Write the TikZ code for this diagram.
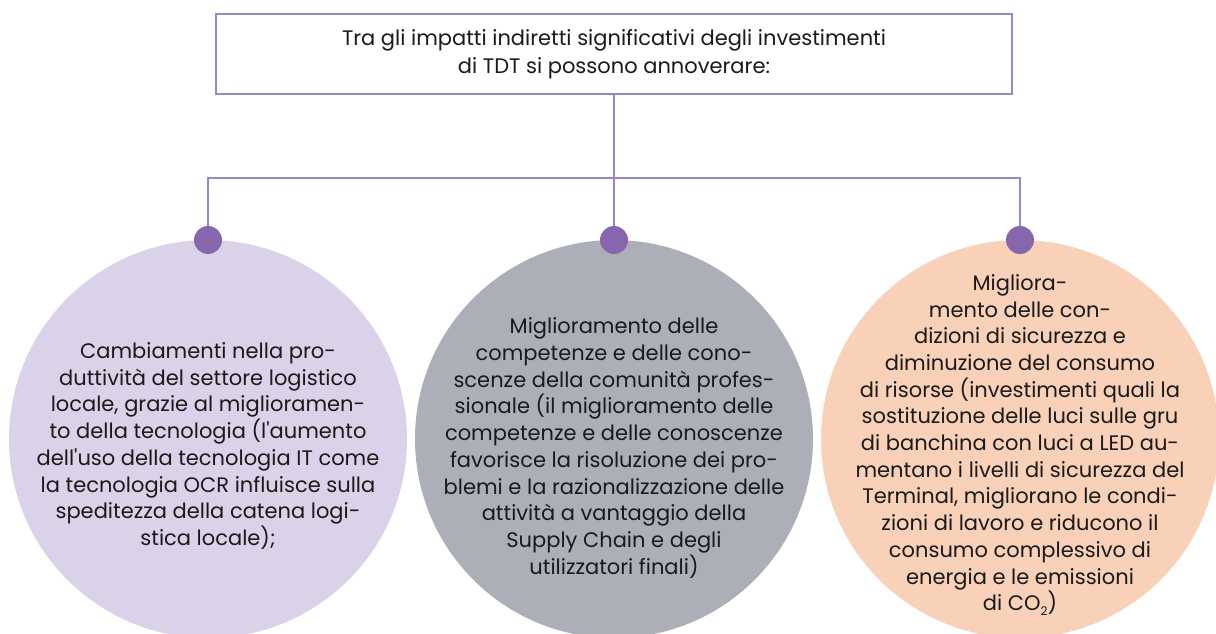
\documentclass[tikz,border=0pt]{standalone}
\usepackage{fontspec}
\setmainfont{Poppins}
\definecolor{lineP}{HTML}{9A86C6}
\definecolor{dotP}{HTML}{8667AE}
\definecolor{lav}{HTML}{D9D2E9}
\definecolor{greyC}{HTML}{ADAFB8}
\definecolor{peach}{HTML}{F9D0B8}
\definecolor{txt}{HTML}{1A1A1A}
\newcommand{\sq}{\textquotesingle}
\newcommand{\lowtwo}{\raisebox{-5pt}{\fontsize{12}{12}\selectfont 2}}
\tikzset{
  conn/.style={draw=lineP, line width=1.3pt},
  bubble/.style={circle, minimum size=398pt, inner sep=0pt},
  dotnode/.style={circle, fill=dotP, minimum size=28pt, inner sep=0pt},
  label/.style={align=center, text=txt, font=\fontsize{21}{26.7}\selectfont, inner sep=0pt},
  topbox/.style={draw=lineP, line width=1.3pt, minimum width=796pt, minimum height=80pt, align=center, text=txt, font=\fontsize{21}{28}\selectfont}
}
\begin{document}
\begin{tikzpicture}[x=1pt,y=-1pt]
\useasboundingbox (0,0) rectangle (1216,633);
\clip (0,0) rectangle (1216,633);
\fill[white] (0,0) rectangle (1216,633);
% circles
\node[bubble, fill=lav] (cL) at (208,439) {};
\node[bubble, fill=greyC] (cM) at (614,439) {};
\node[bubble, fill=peach] (cR) at (1020,439) {};
% top box
\node[topbox] (top) at (614,54) {Tra gli impatti indiretti significativi degli investimenti\\di TDT si possono annoverare:};
% dots
\node[dotnode] (dL) at (208,240) {};
\node[dotnode] (dM) at (614,240) {};
\node[dotnode] (dR) at (1020,240) {};
\coordinate (hL) at (208,178);
\coordinate (hR) at (1020,178);
% connectors
\draw[conn] (top.south) -- (dM.north);
\draw[conn] (dL.north) -- (hL) -- (hR) -- (dR.north);
% texts
\node[label] (tL) at (208,446) {Cambiamenti nella pro-\\duttività del settore logistico\\locale, grazie al miglioramen-\\to della tecnologia (l\sq aumento\\dell\sq uso della tecnologia IT come\\la tecnologia OCR influisce sulla\\speditezza della catena logi-\\stica locale);};
\node[label] (tM) at (614,448) {Miglioramento delle\\competenze e delle cono-\\scenze della comunità profes-\\sionale (il miglioramento delle\\competenze e delle conoscenze\\favorisce la risoluzione dei pro-\\blemi e la razionalizzazione delle\\attività a vantaggio della\\Supply Chain e degli\\utilizzatori finali)};
\node[label] (tR) at (1020,445) {Migliora-\\mento delle con-\\dizioni di sicurezza e\\diminuzione del consumo\\di risorse (investimenti quali la\\sostituzione delle luci sulle gru\\di banchina con luci a LED au-\\mentano i livelli di sicurezza del\\Terminal, migliorano le condi-\\zioni di lavoro e riducono il\\consumo complessivo di\\energia e le emissioni\\di CO\lowtwo)};
\end{tikzpicture}
\end{document}
